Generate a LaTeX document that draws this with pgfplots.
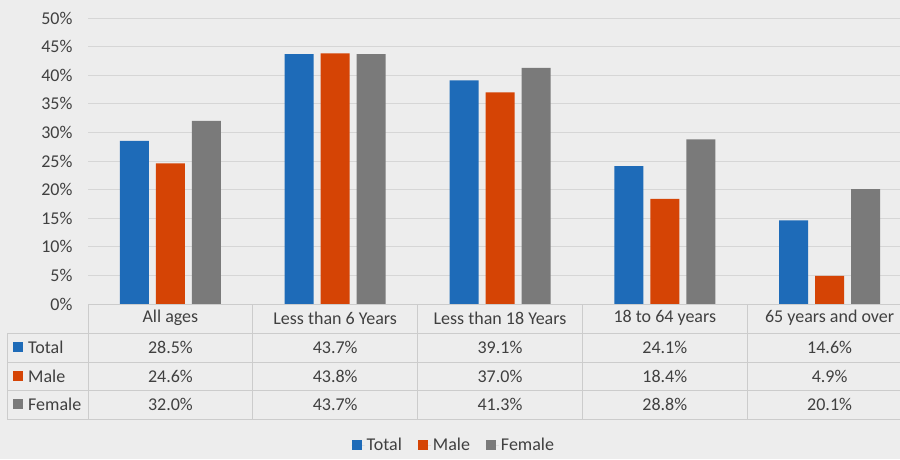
\documentclass[border=0pt]{standalone}
\usepackage{pgfplots}
\pgfplotsset{compat=1.18}
\usepackage{fontspec}
\setmainfont{Carlito}

\definecolor{cTotal}{HTML}{1E6BB8}
\definecolor{cMale}{HTML}{D54405}
\definecolor{cFemale}{HTML}{7A7A7A}
\definecolor{bg}{HTML}{EDEDED}
\definecolor{gridc}{HTML}{D6D6D6}
\definecolor{linec}{HTML}{CCCCCC}
\definecolor{txt}{HTML}{404040}

\newcommand{\fs}{\fontsize{18}{21}\selectfont}

\begin{document}
\begin{tikzpicture}[x=1pt,y=1pt]
\fill[bg] (0,0) rectangle (900,459);
\begin{axis}[
    at={(88pt,155pt)}, anchor=south west,
    scale only axis, width=824pt, height=286pt,
    xmin=-0.5, xmax=4.5, ymin=0, ymax=50,
    ybar=7pt, bar width=29pt,
    xtick=\empty,
    ytick={0,5,...,50},
    yticklabel={\pgfmathprintnumber{\tick}\%},
    /pgf/number format/assume math mode=true,
    ymajorgrids, grid style={gridc, line width=1pt},
    axis line style={draw=none}, major tick length=0pt,
    tick label style={font=\fs, text=txt},
    yticklabel style={xshift=-12pt},
    clip=false,
    legend style={at={(0.444,-0.493)}, anchor=center, draw=none, fill=none,
        font=\fs, text=txt,
        /tikz/every even column/.append style={column sep=14pt}},
    legend columns=-1,
    legend image code/.code={\fill[#1] (0pt,-5pt) rectangle (10pt,5pt);
        \path (0pt,0pt) -- (13pt,0pt);},
]
\addplot[fill=cTotal, draw=none] coordinates {(0,28.5) (1,43.7) (2,39.1) (3,24.1) (4,14.6)};
\addplot[fill=cMale, draw=none] coordinates {(0,24.6) (1,43.8) (2,37.0) (3,18.4) (4,4.9)};
\addplot[fill=cFemale, draw=none] coordinates {(0,32.0) (1,43.7) (2,41.3) (3,28.8) (4,20.1)};
\legend{Total, Male, Female}
\end{axis}

% data table grid
\draw[linec, line width=1pt] (88,155) -- (912,155);
\foreach \y in {126,97,69,40} \draw[linec, line width=1pt] (7,\y) -- (912,\y);
\draw[linec, line width=1pt] (7,126) -- (7,40);
\foreach \x in {88,252.8,417.6,582.4,747.2,912} \draw[linec, line width=1pt] (\x,155) -- (\x,40);

% header row
\foreach \x/\t in {170.4/All ages, 335.2/Less than 6 Years, 500/Less than 18 Years,
                   664.8/18 to 64 years, 829.6/65 years and over}
    \node[font=\fs, text=txt] at (\x,141) {\t};

% row labels
\foreach \y/\c/\t in {112/cTotal/Total, 83/cMale/Male, 55/cFemale/Female} {
    \fill[\c] (13,\y-5) rectangle (23,\y+5);
    \node[font=\fs, text=txt, anchor=west, inner sep=0pt] at (28,\y) {\t};
}

% cell values
\foreach \y/\a/\b/\c/\d/\e in {112/28.5/43.7/39.1/24.1/14.6,
                               83/24.6/43.8/37.0/18.4/4.9,
                               55/32.0/43.7/41.3/28.8/20.1} {
    \node[font=\fs, text=txt] at (170.4,\y) {\a\%};
    \node[font=\fs, text=txt] at (335.2,\y) {\b\%};
    \node[font=\fs, text=txt] at (500,\y) {\c\%};
    \node[font=\fs, text=txt] at (664.8,\y) {\d\%};
    \node[font=\fs, text=txt] at (829.6,\y) {\e\%};
}

\pgfresetboundingbox
\useasboundingbox (0,0) rectangle (900,459);
\end{tikzpicture}
\end{document}
